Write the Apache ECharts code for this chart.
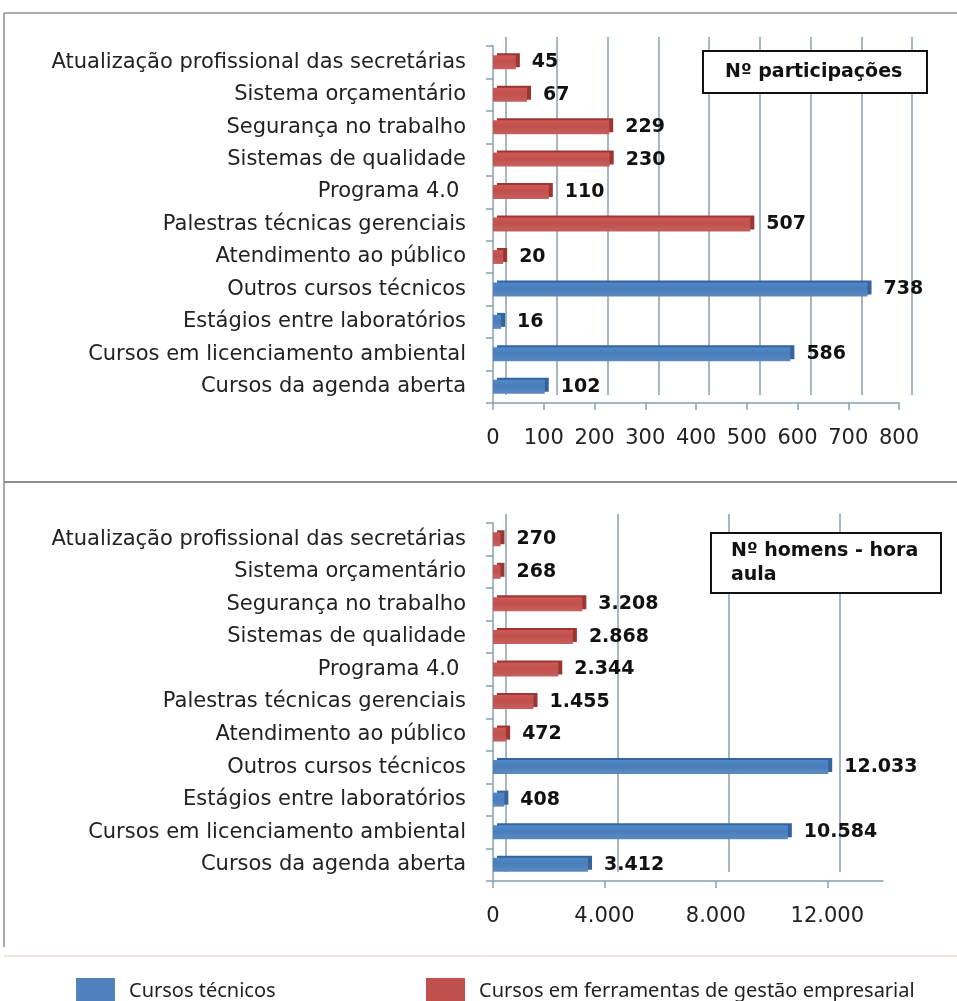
<!DOCTYPE html>
<html>
<head>
<meta charset="utf-8">
<script src="https://cdn.jsdelivr.net/npm/echarts@6/dist/echarts.min.js"></script>
<style>
  html, body { margin: 0; padding: 0; background: #fff; }
  #main { width: 957px; height: 1001px; }
</style>
</head>
<body>
<div id="main"></div>
<script>
// categorias (de baixo para cima)
const categories = [
  'Cursos da agenda aberta',
  'Cursos em licenciamento ambiental',
  'Estágios entre laboratórios',
  'Outros cursos técnicos',
  'Atendimento ao público',
  'Palestras técnicas gerenciais',
  'Programa 4.0 ',
  'Sistemas de qualidade',
  'Segurança no trabalho',
  'Sistema orçamentário',
  'Atualização profissional das secretárias',
];
// Nº participações
const partTecnicos = [102, 586, 16, 738, '-', '-', '-', '-', '-', '-', '-'];
const partGestao = ['-', '-', '-', '-', 20, 507, 110, 230, 229, 67, 45];
// Nº homens - hora aula
const horasTecnicos = [3412, 10584, 408, 12033, '-', '-', '-', '-', '-', '-', '-'];
const horasGestao = ['-', '-', '-', '-', 472, 1455, 2344, 2868, 3208, 268, 270];
// eixos
const partTicks = [0, 100, 200, 300, 400, 500, 600, 700, 800];
const horasTicks = [0, 4000, 8000, 12000];

const seriesNames = ['Cursos técnicos', 'Cursos em ferramentas de gestão empresarial'];
const BLUE = '#4a7ebb';
const RED = '#c0504d';
const GRID_COLOR = '#86a0b2';
const FONT = 'DejaVu Sans';

function fmt(v) {
  return String(v).replace(/\B(?=(\d{3})+(?!\d))/g, '.');
}

const myChart = echarts.init(document.getElementById('main'));

function bar(name, data, color, shadow, x, y) {
  return {
    name: name,
    type: 'bar',
    stack: 'p' + x,
    xAxisIndex: x,
    yAxisIndex: y,
    data: data,
    barWidth: 14,
    itemStyle: {
      color: new echarts.graphic.LinearGradient(0, 0, 0, 1, [
        { offset: 0, color: echarts.color.lift(color, -0.08) },
        { offset: 0.45, color: color },
        { offset: 1, color: echarts.color.lift(color, 0.1) },
      ]),
      shadowColor: shadow,
      shadowOffsetX: 4,
      shadowOffsetY: -2,
      shadowBlur: 0,
    },
    label: {
      show: true,
      position: 'right',
      distance: 16,
      color: '#111',
      fontFamily: FONT,
      fontWeight: 'bold',
      fontSize: 19,
      formatter: (p) => fmt(p.value),
    },
  };
}

// grades: 0 frente sup, 1 fundo sup, 2 frente inf, 3 fundo inf
const grids = [
  { left: 493, top: 46, width: 406, height: 357 },
  { left: 506, top: 37, width: 406, height: 358 },
  { left: 493, top: 523, width: 390, height: 358 },
  { left: 506, top: 514, width: 334, height: 358 },
];

function frontX(gridIndex, max, interval, ticks) {
  return {
    type: 'value',
    gridIndex: gridIndex,
    min: 0,
    max: max,
    interval: interval,
    axisLine: { show: true, lineStyle: { color: GRID_COLOR, width: 1.5 } },
    axisTick: { show: true, length: 7, lineStyle: { color: GRID_COLOR, width: 1.5 }, customValues: ticks },
    axisLabel: {
      color: '#222',
      fontFamily: FONT,
      fontSize: 21,
      margin: 25,
      customValues: ticks,
      formatter: (v) => fmt(v),
    },
    splitLine: { show: false },
  };
}

function backX(gridIndex, max, interval) {
  return {
    type: 'value',
    gridIndex: gridIndex,
    min: 0,
    max: max,
    interval: interval,
    axisLine: { show: false },
    axisTick: { show: false },
    axisLabel: { show: false },
    splitLine: { show: true, lineStyle: { color: GRID_COLOR, width: 1.5 } },
  };
}

function frontY(gridIndex) {
  return {
    type: 'category',
    gridIndex: gridIndex,
    data: categories,
    axisLine: { show: true, lineStyle: { color: GRID_COLOR, width: 1.5 } },
    axisTick: { show: true, length: 7, lineStyle: { color: GRID_COLOR, width: 1.5 } },
    axisLabel: { color: '#222', fontFamily: FONT, fontSize: 21, margin: 27 },
  };
}

function backY(gridIndex) {
  return {
    type: 'category',
    gridIndex: gridIndex,
    data: categories,
    show: false,
  };
}

function legendItem(name, color, left) {
  return {
    data: [{ name: name, itemStyle: { color: color, shadowColor: 'transparent' } }],
    left: left,
    top: 973,
    itemWidth: 39,
    itemHeight: 27,
    icon: 'rect',
    textStyle: { fontFamily: 'Noto Sans', fontSize: 20, color: '#222', padding: [0, 0, 0, 9] },
  };
}

const option = {
  animation: false,
  backgroundColor: '#fff',
  grid: grids,
  title: [
    {
      text: 'Nº participações',
      left: 703,
      top: 51,
      padding: [12, 25, 11, 22],
      backgroundColor: '#fff',
      borderColor: '#111',
      borderWidth: 2,
      textStyle: { fontFamily: FONT, fontWeight: 'bold', fontSize: 19, color: '#111' },
    },
    {
      text: 'Nº homens - hora\naula',
      left: 711,
      top: 533,
      padding: [6, 23, 6, 20],
      backgroundColor: '#fff',
      borderColor: '#111',
      borderWidth: 2,
      textStyle: { fontFamily: FONT, fontWeight: 'bold', fontSize: 19, color: '#111', lineHeight: 24 },
    },
  ],
  legend: [
    legendItem(seriesNames[0], '#4f81bd', 71),
    legendItem(seriesNames[1], '#c0504d', 421),
  ],
  xAxis: [
    frontX(0, 800, 100, partTicks),
    backX(1, 800, 100),
    frontX(2, 14000, 2000, horasTicks),
    backX(3, 12000, 4000),
  ],
  yAxis: [frontY(0), backY(1), frontY(2), backY(3)],
  graphic: [
    // molduras dos painéis
    { type: 'line', shape: { x1: 4, y1: 13, x2: 957, y2: 13 }, style: { stroke: '#9a8f8c', lineWidth: 1.5 } },
    { type: 'line', shape: { x1: 4, y1: 13, x2: 4, y2: 947 }, style: { stroke: '#8c8c8c', lineWidth: 1.5 } },
    { type: 'line', shape: { x1: 4, y1: 482, x2: 957, y2: 482 }, style: { stroke: '#8c8c8c', lineWidth: 2 } },
    { type: 'line', shape: { x1: 4, y1: 956, x2: 957, y2: 956 }, style: { stroke: '#f0c8bc', lineWidth: 1 } },
  ],
  series: [
    bar(seriesNames[0], partTecnicos, BLUE, '#35639b', 0, 0),
    bar(seriesNames[1], partGestao, RED, '#9a3633', 0, 0),
    bar(seriesNames[0], horasTecnicos, BLUE, '#35639b', 2, 2),
    bar(seriesNames[1], horasGestao, RED, '#9a3633', 2, 2),
  ],
};

myChart.setOption(option);
</script>
</body>
</html>
